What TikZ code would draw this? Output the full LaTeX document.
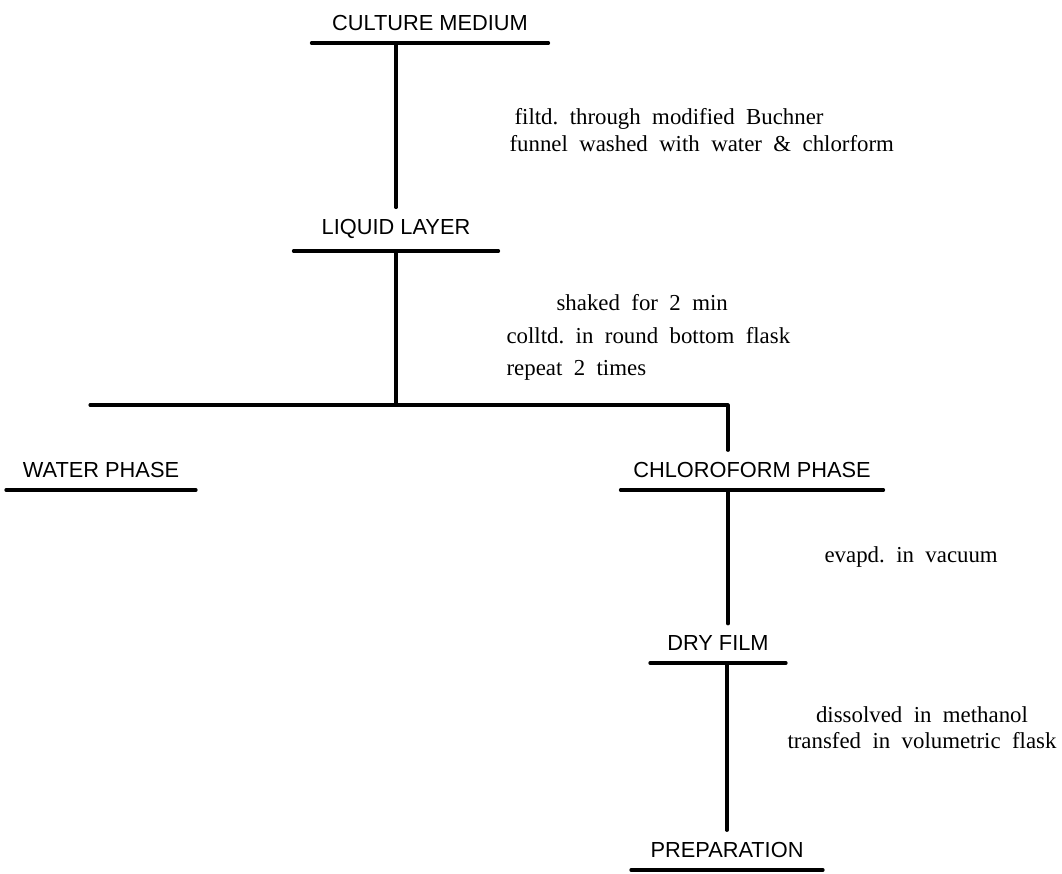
\documentclass[tikz,border=0pt]{standalone}
\usepackage{fontspec}
\setmainfont{Liberation Serif}
\setsansfont{Liberation Sans}
\begin{document}
\begin{tikzpicture}[x=0.02cm, y=-0.02cm, line width=1.8pt, line cap=round, line join=round,
	stage/.style={anchor=south, font=\sffamily\fontsize{12.4}{14}\selectfont, inner ysep=6pt, inner xsep=0pt},
	note/.style={font=\fontsize{13}{15}\selectfont, inner sep=0pt, align=left}]
	\useasboundingbox (0,0) rectangle (1062,873);
	\node[stage, minimum width=4.68cm] (cm) at (430,43) {CULTURE MEDIUM};
	\node[stage, minimum width=4.04cm] (lq) at (396,251) {LIQUID LAYER};
	\node[stage, minimum width=3.74cm] (wp) at (101,490) {WATER PHASE};
	\node[stage, minimum width=5.2cm] (cp) at (752,490) {CHLOROFORM PHASE};
	\node[stage, minimum width=2.66cm] (df) at (718,663) {DRY FILM};
	\node[stage, minimum width=3.78cm] (pr) at (727,870) {PREPARATION};
	\foreach \n in {cm,lq,wp,cp,df,pr}
	\draw (\n.south west) -- (\n.south east);
	\coordinate (split) at (396,405);
	\coordinate (left) at (90,405);
	\coordinate (right) at (728,405);
	\draw (lq.north |- cm.south) -- (lq.north);
	\draw (lq.south) -- (split);
	\draw (left) -- (right) -- (right |- cp.north);
	\draw (right |- cp.south) -- (right |- df.north);
	\draw (pr.north |- df.south) -- (pr.north);
	\node[note, anchor=north west] (filt) at (508,107) {\hspace*{0.1cm}filtd.\ \ through\ \ modified\ \ Buchner\\funnel\ \ washed\ \ with\ \ water\ \ \&\ \ chlorform};
	\node[note, anchor=north west, font=\fontsize{13}{18.5}\selectfont] (shake) at (505,293) {\hspace*{1cm}shaked\ \ for\ \ 2\ \ min\\colltd.\ \ in\ \ round\ \ bottom\ \ flask\\repeat\ \ 2\ \ times};
	\node[note, anchor=north west] (evap) at (823,545) {evapd.\ \ in\ \ vacuum};
	\node[note, anchor=north, align=center] (diss) at (922,705) {dissolved\ \ in\ \ methanol\\transfed\ \ in\ \ volumetric\ \ flask};
\end{tikzpicture}
\end{document}
